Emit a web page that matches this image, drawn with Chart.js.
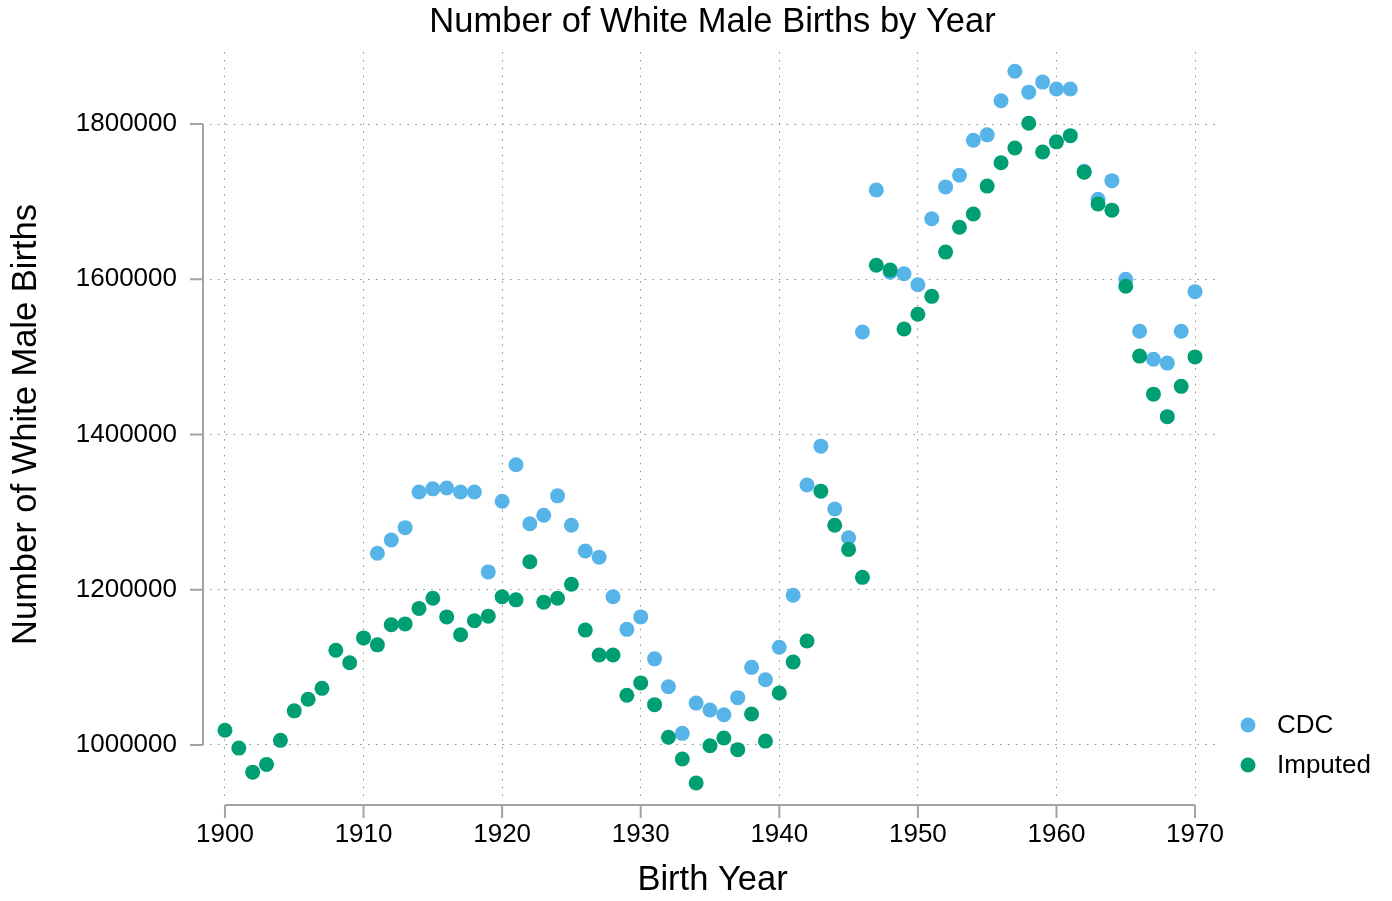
<!DOCTYPE html>
<html>
<head>
<meta charset="utf-8">
<script src="https://cdn.jsdelivr.net/npm/chart.js@4.4.1/dist/chart.umd.min.js"></script>
<style>
html, body { margin: 0; padding: 0; background: #ffffff; }
#wrap { width: 1392px; height: 901px; }
canvas { display: block; }
</style>
</head>
<body>
<div id="wrap"><canvas id="c" width="1392" height="901"></canvas></div>
<script>
// ---- data ----
const years = [1900,1901,1902,1903,1904,1905,1906,1907,1908,1909,
               1910,1911,1912,1913,1914,1915,1916,1917,1918,1919,
               1920,1921,1922,1923,1924,1925,1926,1927,1928,1929,
               1930,1931,1932,1933,1934,1935,1936,1937,1938,1939,
               1940,1941,1942,1943,1944,1945,1946,1947,1948,1949,
               1950,1951,1952,1953,1954,1955,1956,1957,1958,1959,
               1960,1961,1962,1963,1964,1965,1966,1967,1968,1969,
               1970];

const cdc = [null,null,null,null,null,null,null,null,null,null,
             null,1247000,1264000,1280000,1326000,1330000,1331000,1326000,1326000,1223000,
             1314000,1361000,1285000,1296000,1321000,1283000,1250000,1242000,1191000,1149000,
             1165000,1111000,1075000,1015000,1054000,1045000,1039000,1061000,1100000,1084000,
             1126000,1193000,1335000,1385000,1304000,1267000,1532000,1715000,1609000,1607000,
             1593000,1678000,1719000,1734000,1779000,1786000,1830000,1868000,1841000,1854000,
             1845000,1845000,1739000,1703000,1727000,1600000,1533000,1497000,1492000,1533000,
             1584000];

const imputed = [1019000,996000,965000,975000,1006000,1044000,1059000,1073000,1122000,1106000,
                 1138000,1129000,1155000,1156000,1176000,1189000,1165000,1142000,1160000,1166000,
                 1191000,1187000,1236000,1184000,1189000,1207000,1148000,1116000,1116000,1064000,
                 1080000,1052000,1010000,982000,951000,999000,1009000,994000,1040000,1005000,
                 1067000,1107000,1134000,1327000,1283000,1252000,1216000,1618000,1612000,1536000,
                 1555000,1578000,1635000,1667000,1684000,1720000,1750000,1769000,1801000,1764000,
                 1777000,1785000,1738000,1697000,1689000,1591000,1501000,1452000,1423000,1462000,
                 1500000];

const xTicks = [1900,1910,1920,1930,1940,1950,1960,1970];
const yTicks = [1000000,1200000,1400000,1600000,1800000];

const seriesNames = ['CDC', 'Imputed'];
const seriesColors = ['#56B4E9', '#009E73'];

const chartTitle = 'Number of White Male Births by Year';
const xTitle = 'Birth Year';
const yTitle = 'Number of White Male Births';

// ---- styling ----
const FONT = '"Liberation Sans", Arial, Helvetica, sans-serif';
const AXIS_GREY = '#a3a3a3';
const TITLE_SIZE = 34.5;

function toPoints(vals) {
  return years.map((yr, i) => ({ x: yr, y: vals[i] })).filter(p => p.y !== null);
}

// R-style detached axes: line spans first..last tick, ticks pointing outward
const rAxes = {
  id: 'rAxes',
  afterDraw(chart) {
    const ctx = chart.ctx;
    const xs = chart.scales.x, ys = chart.scales.y;
    ctx.save();
    ctx.strokeStyle = AXIS_GREY;
    ctx.lineWidth = 2;
    ctx.setLineDash([]);
    // y axis
    const ax = 203;
    const yTop = ys.getPixelForValue(yTicks[yTicks.length - 1]);
    const yBot = ys.getPixelForValue(yTicks[0]);
    ctx.beginPath();
    ctx.moveTo(ax, yTop); ctx.lineTo(ax, yBot);
    yTicks.forEach(v => {
      const p = ys.getPixelForValue(v);
      ctx.moveTo(ax, p); ctx.lineTo(ax - 13, p);
    });
    ctx.stroke();
    // x axis
    const ay = 805;
    const xL = xs.getPixelForValue(xTicks[0]);
    const xR = xs.getPixelForValue(xTicks[xTicks.length - 1]);
    ctx.beginPath();
    ctx.moveTo(xL, ay); ctx.lineTo(xR, ay);
    xTicks.forEach(v => {
      const p = xs.getPixelForValue(v);
      ctx.moveTo(p, ay); ctx.lineTo(p, ay + 13);
    });
    ctx.stroke();
    ctx.restore();
  }
};

// Legend at bottom right, outside the plot
const rLegend = {
  id: 'rLegend',
  afterDraw(chart) {
    const ctx = chart.ctx;
    ctx.save();
    ctx.font = '26px ' + FONT;
    ctx.textAlign = 'left';
    ctx.textBaseline = 'middle';
    seriesNames.forEach((name, i) => {
      const cy = 725 + i * 40;
      ctx.beginPath();
      ctx.fillStyle = seriesColors[i];
      ctx.arc(1248, cy, 7.5, 0, Math.PI * 2);
      ctx.fill();
      ctx.fillStyle = '#000';
      ctx.fillText(name, 1277, cy + 1);
    });
    ctx.restore();
  }
};

const chart = new Chart(document.getElementById('c'), {
  type: 'scatter',
  data: {
    datasets: [
      {
        label: seriesNames[0],
        data: toPoints(cdc),
        backgroundColor: seriesColors[0],
        borderColor: seriesColors[0],
        borderWidth: 0,
        pointRadius: 7.5,
        pointHoverRadius: 7.5,
        order: 2
      },
      {
        label: seriesNames[1],
        data: toPoints(imputed),
        backgroundColor: seriesColors[1],
        borderColor: seriesColors[1],
        borderWidth: 0,
        pointRadius: 7.5,
        pointHoverRadius: 7.5,
        order: 1
      }
    ]
  },
  options: {
    responsive: false,
    animation: false,
    devicePixelRatio: 1,
    layout: { padding: { left: 0, right: 177, top: 0, bottom: 0 } },
    plugins: {
      legend: { display: false },
      tooltip: { enabled: false },
      title: {
        display: true,
        text: chartTitle,
        fullSize: false,
        color: '#000',
        font: { family: FONT, size: TITLE_SIZE, weight: 'normal', lineHeight: 1.2 },
        padding: { top: 1.3, bottom: 9.3 }
      }
    },
    scales: {
      x: {
        type: 'linear',
        position: 'bottom',
        min: 1898.92,
        max: 1971.44,
        afterBuildTicks(scale) { scale.ticks = xTicks.map(v => ({ value: v })); },
        afterFit(scale) { scale.height = 104; },
        ticks: {
          color: '#000',
          font: { family: FONT, size: 26 },
          padding: 22,
          maxRotation: 0,
          autoSkip: false,
          callback: v => String(v)
        },
        grid: { color: '#8f8f8f', lineWidth: 1, drawTicks: false, tickLength: 0 },
        border: { display: false, dash: [1.5, 6.4] },
        title: {
          display: true,
          text: xTitle,
          color: '#000',
          font: { family: FONT, size: TITLE_SIZE, lineHeight: 1.2 },
          padding: { top: 0, bottom: 0 }
        }
      },
      y: {
        type: 'linear',
        position: 'left',
        min: 933011,
        max: 1892754,
        afterBuildTicks(scale) { scale.ticks = yTicks.map(v => ({ value: v })); },
        afterFit(scale) { scale.width = 210; },
        ticks: {
          color: '#000',
          font: { family: FONT, size: 26 },
          padding: 33,
          autoSkip: false,
          callback: v => String(v)
        },
        grid: { color: '#8f8f8f', lineWidth: 1, drawTicks: false, tickLength: 0 },
        border: { display: false, dash: [1.5, 6.4] },
        title: {
          display: true,
          text: yTitle,
          color: '#000',
          font: { family: FONT, size: TITLE_SIZE, lineHeight: 1.2 },
          padding: { top: 5.3, bottom: 0 }
        }
      }
    }
  },
  plugins: [rAxes, rLegend]
});
</script>
</body>
</html>
